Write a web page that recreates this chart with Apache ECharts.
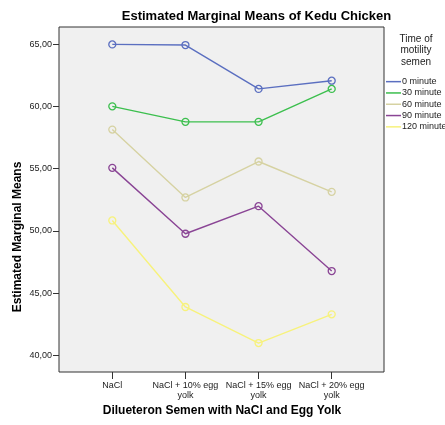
<!DOCTYPE html>
<html><head><meta charset="utf-8">
<script src="https://cdn.jsdelivr.net/npm/echarts@6/dist/echarts.min.js"></script>
<style>html,body{margin:0;padding:0;background:#fff}#c{width:445px;height:425px}</style>
</head><body><div id="c"></div>
<script>
const categories = ['NaCl', 'NaCl + 10% egg\nyolk', 'NaCl + 15% egg\nyolk', 'NaCl + 20% egg\nyolk'];
const seriesNames = ['0 minute', '30 minute', '60 minute', '90 minute', '120 minute'];
const min0 = [65.00, 64.95, 61.42, 62.08];
const min30 = [60.02, 58.77, 58.77, 61.42];
const min60 = [58.15, 52.69, 55.58, 53.14];
const min90 = [55.07, 49.77, 51.99, 46.77];
const min120 = [50.84, 43.88, 40.98, 43.29];
const yTicks = [40, 45, 50, 55, 60, 65];
const colors = ['#5b6fc0', '#3cbf4e', '#d6d2a2', '#8a4595', '#f7f27c'];
const values = [min0, min30, min60, min90, min120];

const chart = echarts.init(document.getElementById('c'), null, {renderer: 'canvas'});
const font = 'Liberation Sans, Arial, sans-serif';
const yMin = 38.65, yMax = 66.40;

chart.setOption({
  backgroundColor: '#fff',
  animation: false,
  textStyle: {fontFamily: font},
  graphic: [
    {type: 'text', x: 256.5, y: 16,
     style: {text: 'Estimated Marginal Means of Kedu Chicken', align: 'center', verticalAlign: 'middle',
             font: 'bold 13px ' + font, fill: '#000'}},
    {type: 'text', x: 18, y: 237, rotation: Math.PI / 2,
     style: {text: 'Estimated Marginal Means', align: 'center', verticalAlign: 'middle',
             font: 'bold 12px ' + font, fill: '#000'}},
    {type: 'text', x: 416, y: 33,
     style: {text: 'Time of\nmotility\nsemen', align: 'center', verticalAlign: 'top',
             font: '10px ' + font, fill: '#222', lineHeight: 11.7}}
  ],
  legend: {
    orient: 'vertical', left: 386, top: 76, padding: 0,
    itemWidth: 15, itemHeight: 1.5, itemGap: 0, icon: 'rect',
    data: seriesNames.map((n, i) => ({name: n, itemStyle: {color: colors[i], borderWidth: 0}})),
    textStyle: {fontSize: 9, color: '#222', fontFamily: font, lineHeight: 11.3, padding: [0, 0, 0, -4]}
  },
  grid: [
    {left: 59, top: 27, width: 325, height: 345, show: true, backgroundColor: '#f0f0f0',
     borderColor: '#333', borderWidth: 1, containLabel: false},
    {left: 112.3, top: 27, width: 219.4, height: 345, containLabel: false}
  ],
  xAxis: [
    {gridIndex: 0, type: 'value', show: false, min: 0, max: 1},
    {gridIndex: 1, type: 'category', data: categories, boundaryGap: false,
     axisLine: {show: false},
     axisTick: {show: true, length: 7, lineStyle: {color: '#333'}},
     axisLabel: {fontSize: 9, color: '#222', lineHeight: 9.5, margin: 9, interval: 0, fontFamily: font},
     name: 'Dilueteron Semen with NaCl and Egg Yolk', nameLocation: 'middle', nameGap: 29,
     nameTextStyle: {fontSize: 12, fontWeight: 'bold', color: '#000', fontFamily: font}}
  ],
  yAxis: [
    {gridIndex: 0, type: 'value', show: false, min: 0, max: 1},
    {gridIndex: 1, type: 'value', min: yMin, max: yMax, offset: 53.3,
     axisLine: {show: false},
     splitLine: {show: false},
     axisTick: {show: true, length: 6, customValues: yTicks, lineStyle: {color: '#333'}},
     axisLabel: {fontSize: 9, color: '#222', margin: 7, customValues: yTicks, fontFamily: font,
                 formatter: v => v.toFixed(2).replace('.', ',')}}
  ],
  series: seriesNames.map((n, i) => ({
    name: n, type: 'line', xAxisIndex: 1, yAxisIndex: 1,
    data: values[i],
    symbol: 'circle', symbolSize: 7,
    lineStyle: {color: colors[i], width: 1.4},
    itemStyle: {color: 'rgba(0,0,0,0)', borderColor: colors[i], borderWidth: 1.3},
    color: colors[i],
    emphasis: {disabled: true}
  }))
});
</script></body></html>
